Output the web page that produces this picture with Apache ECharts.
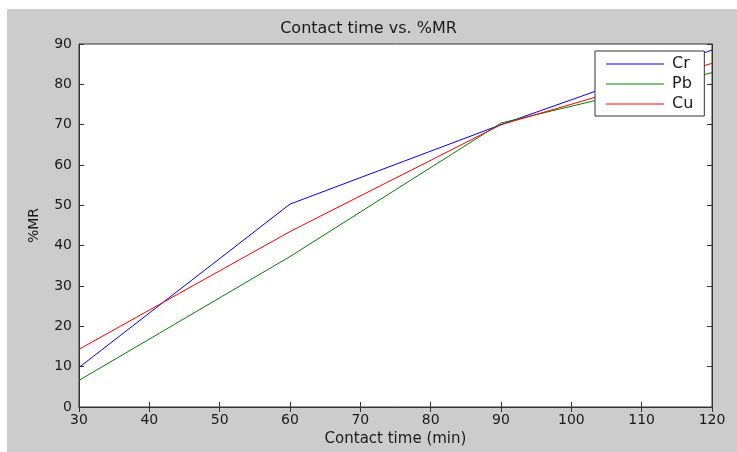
<!DOCTYPE html>
<html>
<head>
<meta charset="utf-8">
<script src="https://cdn.jsdelivr.net/npm/echarts@6/dist/echarts.min.js"></script>
<style>
html,body{margin:0;padding:0;background:#fff;}
#bg{position:absolute;left:7px;top:9px;width:730px;height:443px;background:#cccccc;}
#chart{position:absolute;left:0;top:0;width:737px;height:452px;}
</style>
</head>
<body>
<div id="bg"></div>
<div id="chart"></div>
<script>
var times = [30, 60, 90, 120];
var cr = [9.8, 50.3, 70.0, 88.5];
var pb = [6.6, 37.3, 70.4, 82.9];
var cu = [14.3, 43.5, 70.0, 85.2];
var seriesNames = ['Cr', 'Pb', 'Cu'];
var seriesColors = ['#0000ff', '#008000', '#ff0000'];

function pairs(ys){ return times.map(function(t,i){ return [t, ys[i]]; }); }

var font = 'DejaVu Sans';
var txt = '#1a1a1a';
var chart = echarts.init(document.getElementById('chart'));
var mk = function(name, data, color){
  return {name:name, type:'line', data:pairs(data), symbol:'none', showSymbol:false,
    lineStyle:{color:color, width:1}, itemStyle:{color:color}, z:3, animation:false};
};
chart.setOption({
  animation:false,
  title:{text:'Contact time vs. %MR', left:'center', top:16,
    textStyle:{fontFamily:font, fontSize:16, fontWeight:'normal', color:txt}},
  grid:{left:79, top:44, right:25, bottom:41, show:true, backgroundColor:'#ffffff', borderColor:'#333', borderWidth:1},
  legend:{orient:'vertical', left:595, top:51, padding:[5,11,4,11], itemGap:4, icon:'rect',
    itemWidth:58, itemHeight:1, backgroundColor:'#fff', borderColor:'#333', borderWidth:1,
    data:seriesNames,
    textStyle:{fontFamily:font, fontSize:16, lineHeight:14, color:txt, padding:[0,0,0,3]}},
  xAxis:[{type:'value', min:30, max:120, interval:10, name:'Contact time (min)', nameLocation:'middle', nameGap:25,
    nameTextStyle:{fontFamily:font, fontSize:15, color:txt},
    axisLine:{lineStyle:{color:'#333'}}, axisTick:{inside:true, length:5, lineStyle:{color:'#333'}},
    axisLabel:{margin:6, fontFamily:font, fontSize:14, color:txt}, splitLine:{show:false}},
   {type:'value', position:'top', min:30, max:120, interval:10,
    axisLine:{lineStyle:{color:'#333'}}, axisTick:{inside:true, length:5, lineStyle:{color:'#333'}},
    axisLabel:{show:false}, splitLine:{show:false}}],
  yAxis:[{type:'value', min:0, max:90, interval:10, name:'%MR', nameLocation:'middle', nameGap:38,
    nameTextStyle:{fontFamily:font, fontSize:14, color:txt},
    axisLine:{show:true, lineStyle:{color:'#333'}}, axisTick:{show:true, inside:true, length:5, lineStyle:{color:'#333'}},
    axisLabel:{margin:7, fontFamily:font, fontSize:14, color:txt}, splitLine:{show:false}},
   {type:'value', position:'right', min:0, max:90, interval:10,
    axisLine:{show:true, lineStyle:{color:'#333'}}, axisTick:{show:true, inside:true, length:5, lineStyle:{color:'#333'}},
    axisLabel:{show:false}, splitLine:{show:false}}],
  series:[mk(seriesNames[0], cr, seriesColors[0]), mk(seriesNames[1], pb, seriesColors[1]), mk(seriesNames[2], cu, seriesColors[2])]
});
</script>
</body>
</html>
